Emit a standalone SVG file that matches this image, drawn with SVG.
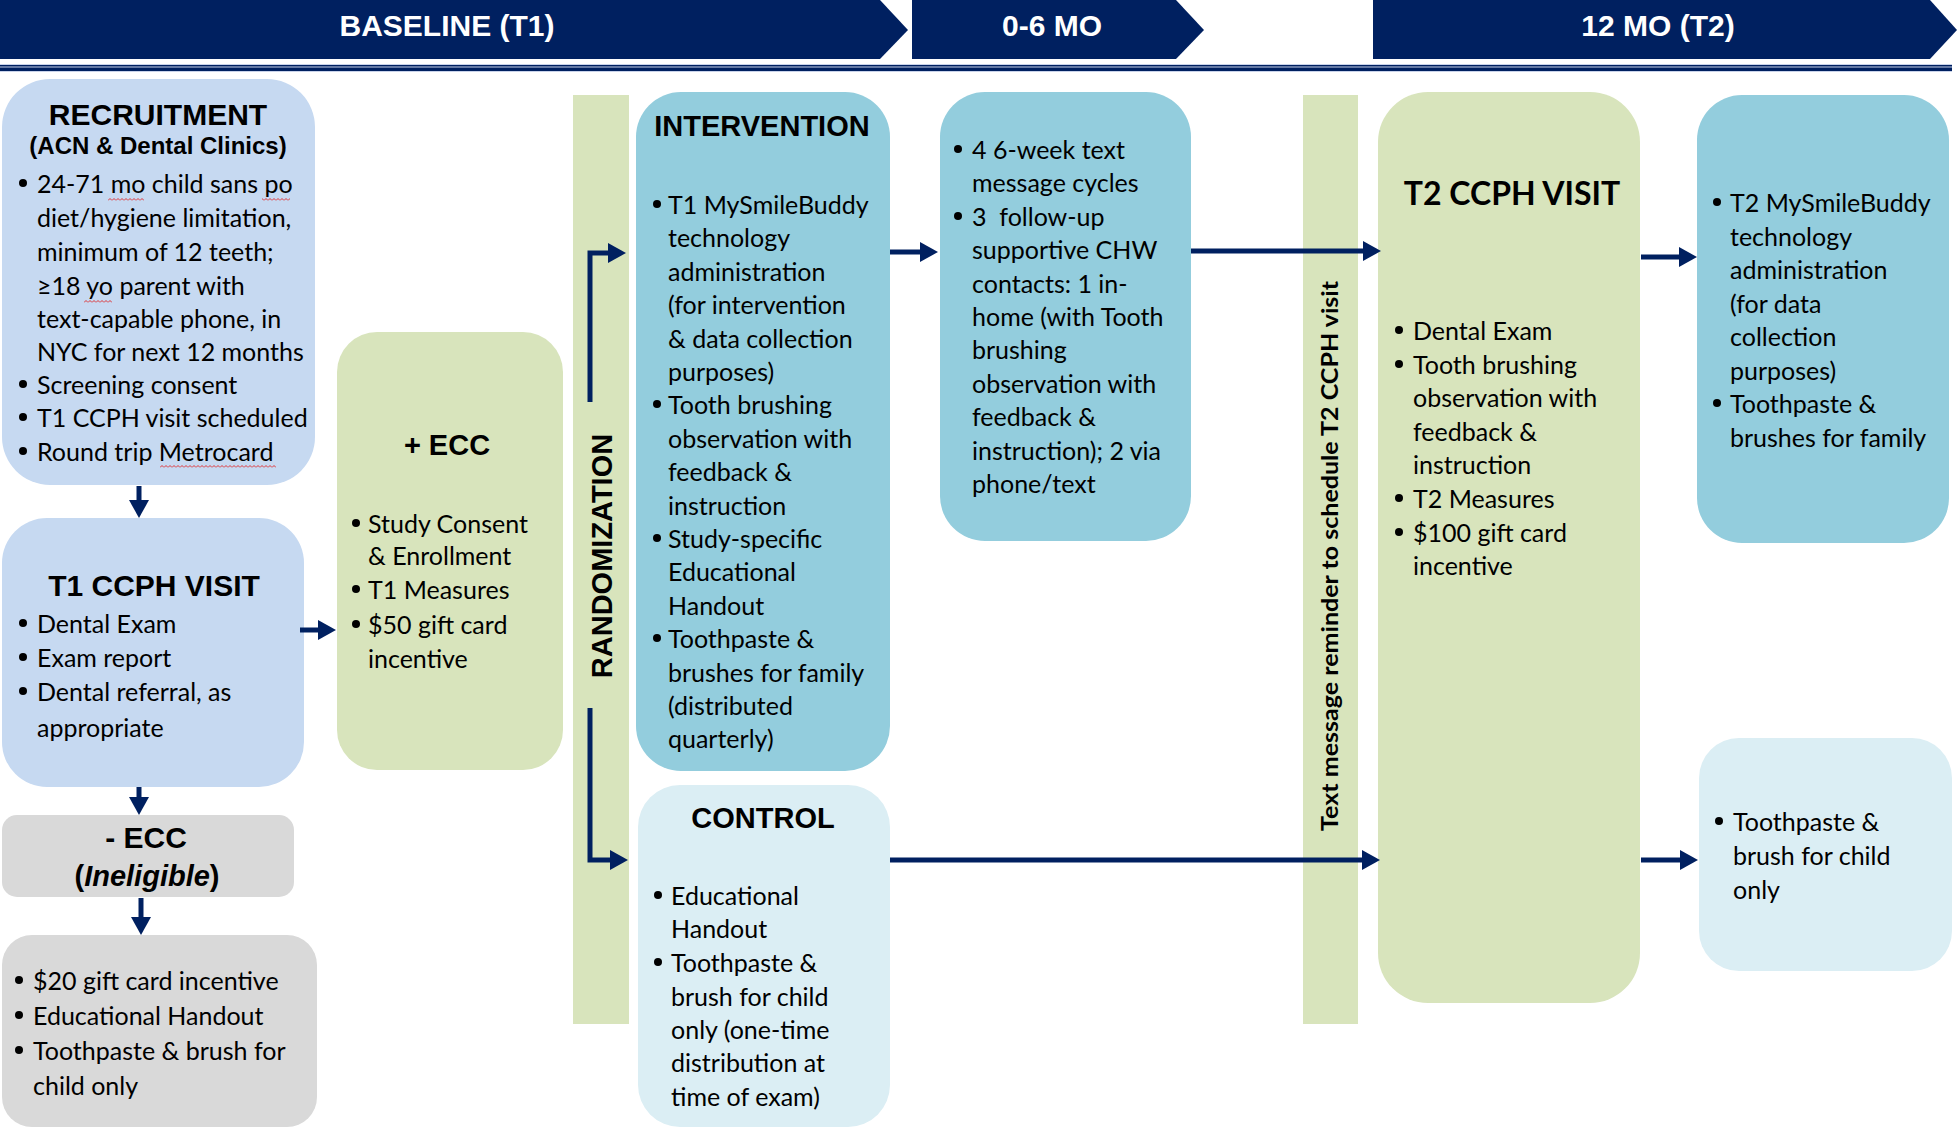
<svg xmlns="http://www.w3.org/2000/svg" width="1959" height="1130" viewBox="0 0 1959 1130">
<style>
.hdr{fill:#002060}
.hdrt{font-family:'Liberation Sans',Arial,sans-serif;font-weight:bold;font-size:30px;fill:#fff;text-anchor:middle}
.ttl{font-family:'Liberation Sans',Arial,sans-serif;font-weight:bold;font-size:29px;fill:#000;text-anchor:middle}
.ttl2{font-family:Lato,'Open Sans',sans-serif;font-weight:bold;font-size:32px;fill:#000;text-anchor:middle}
.b{font-family:Lato,'Open Sans',sans-serif;font-size:25px;fill:#000}
.rot{font-family:Lato,'Open Sans',sans-serif;font-weight:bold;font-size:23px;fill:#000;text-anchor:middle}
.dot{fill:#000}
.lb{fill:#c6d9f1}
.gr{fill:#d8e4bc}
.mb{fill:#93cddd}
.pb{fill:#dbeef4}
.gy{fill:#d9d9d9}
.conn path{stroke:#002060;stroke-width:5;fill:none;marker-end:url(#ah)}
.sq{fill:url(#squig)}
</style>
<defs>
<marker id="ah" markerUnits="userSpaceOnUse" markerWidth="18" markerHeight="20" viewBox="0 0 18 20" refX="4" refY="10" orient="auto">
<path d="M0,0 L18,10 L0,20 Z" fill="#002060"/>
</marker>
<pattern id="squig" patternUnits="userSpaceOnUse" width="4" height="3">
<path d="M0,2.5 L2,0.5 L4,2.5" stroke="#e02020" stroke-width="0.9" fill="none"/>
</pattern>
</defs>
<rect width="1959" height="1130" fill="#fff"/>

<g id="header">
<polygon class="hdr" points="0,0 880,0 908,30 880,59 0,59"/>
<polygon class="hdr" points="912,0 1176,0 1204,30 1176,59 912,59"/>
<polygon class="hdr" points="1373,0 1930,0 1957,30 1930,59 1373,59"/>
<text class="hdrt" x="447" y="36">BASELINE (T1)</text>
<text class="hdrt" x="1052" y="36">0-6 MO</text>
<text class="hdrt" x="1658" y="36">12 MO (T2)</text>
<rect x="0" y="64" width="1952" height="8" fill="#c9d3ea"/>
<rect x="0" y="65" width="1952" height="1.5" fill="#002060"/>
<rect x="0" y="67.5" width="1952" height="3.5" fill="#002060"/>
</g>

<g id="node-recruitment">
<rect class="lb" x="2" y="79" width="313" height="406" rx="48"/>
<text class="ttl" x="158" y="125" style="font-size:30px">RECRUITMENT</text>
<text class="ttl" x="158" y="154" style="font-size:24px">(ACN &amp; Dental Clinics)</text>
<circle class="dot" cx="23" cy="183" r="4"/>
<circle class="dot" cx="23" cy="384" r="4"/>
<circle class="dot" cx="23" cy="417" r="4"/>
<circle class="dot" cx="23" cy="451" r="4"/>
<text class="b" transform="translate(0,2.5)"><tspan x="37" y="190">24-71 mo child sans po</tspan><tspan x="37" y="224">diet/hygiene limitation,</tspan><tspan x="37" y="258">minimum of 12 teeth;</tspan><tspan x="37" y="292">≥18 yo parent with</tspan><tspan x="37" y="325">text-capable phone, in</tspan><tspan x="37" y="358">NYC for next 12 months</tspan><tspan x="37" y="391">Screening consent</tspan><tspan x="37" y="424">T1 CCPH visit scheduled</tspan><tspan x="37" y="458">Round trip Metrocard</tspan></text>
<rect class="sq" x="108" y="198" width="36" height="3"/>
<rect class="sq" x="262" y="198" width="28" height="3"/>
<rect class="sq" x="84" y="300" width="28" height="3"/>
<rect class="sq" x="160" y="465" width="116" height="3"/>
</g>

<g id="node-t1-visit">
<rect class="lb" x="2" y="518" width="302" height="269" rx="45"/>
<text class="ttl" x="154" y="596" style="font-size:30px">T1 CCPH VISIT</text>
<circle class="dot" cx="23" cy="623" r="4"/>
<circle class="dot" cx="23" cy="657" r="4"/>
<circle class="dot" cx="23" cy="691" r="4"/>
<text class="b" transform="translate(0,2.5)"><tspan x="37" y="630">Dental Exam</tspan><tspan x="37" y="664">Exam report</tspan><tspan x="37" y="698">Dental referral, as</tspan><tspan x="37" y="734">appropriate</tspan></text>
</g>

<g id="node-minus-ecc">
<rect class="gy" x="2" y="815" width="292" height="82" rx="15"/>
<text class="ttl" x="146" y="848" style="font-size:30px">- ECC</text>
<text class="ttl" x="147" y="886">(<tspan font-style="italic">Ineligible</tspan>)</text>
</g>

<g id="node-ineligible">
<rect class="gy" x="2" y="935" width="315" height="192" rx="30"/>
<circle class="dot" cx="19" cy="980" r="4"/>
<circle class="dot" cx="19" cy="1015" r="4"/>
<circle class="dot" cx="19" cy="1050" r="4"/>
<text class="b" transform="translate(0,2.5)"><tspan x="33" y="987">$20 gift card incentive</tspan><tspan x="33" y="1022">Educational Handout</tspan><tspan x="33" y="1057">Toothpaste &amp; brush for</tspan><tspan x="33" y="1092">child only</tspan></text>
</g>

<g id="node-plus-ecc">
<rect class="gr" x="337" y="332" width="226" height="438" rx="40"/>
<text class="ttl" x="447" y="455">+ ECC</text>
<circle class="dot" cx="356" cy="523" r="4"/>
<circle class="dot" cx="356" cy="589" r="4"/>
<circle class="dot" cx="356" cy="624" r="4"/>
<text class="b" transform="translate(0,2.5)"><tspan x="368" y="530">Study Consent</tspan><tspan x="368" y="562">&amp; Enrollment</tspan><tspan x="368" y="596">T1 Measures</tspan><tspan x="368" y="631">$50 gift card</tspan><tspan x="368" y="665">incentive</tspan></text>
</g>

<g id="node-randomization">
<rect class="gr" x="573" y="95" width="56" height="929"/>
<text class="ttl" transform="translate(601,556) rotate(-90)" x="0" y="11">RANDOMIZATION</text>
</g>

<g id="node-intervention">
<rect class="mb" x="636" y="92" width="254" height="679" rx="45"/>
<text class="ttl" x="762" y="136">INTERVENTION</text>
<circle class="dot" cx="657" cy="204" r="4"/>
<circle class="dot" cx="657" cy="404" r="4"/>
<circle class="dot" cx="657" cy="538" r="4"/>
<circle class="dot" cx="657" cy="638" r="4"/>
<text class="b" transform="translate(0,2.5)"><tspan x="668" y="211">T1 MySmileBuddy</tspan><tspan x="668" y="244">technology</tspan><tspan x="668" y="278">administration</tspan><tspan x="668" y="311">(for intervention</tspan><tspan x="668" y="345">&amp; data collection</tspan><tspan x="668" y="378">purposes)</tspan><tspan x="668" y="411">Tooth brushing</tspan><tspan x="668" y="445">observation with</tspan><tspan x="668" y="478">feedback &amp;</tspan><tspan x="668" y="512">instruction</tspan><tspan x="668" y="545">Study-specific</tspan><tspan x="668" y="578">Educational</tspan><tspan x="668" y="612">Handout</tspan><tspan x="668" y="645">Toothpaste &amp;</tspan><tspan x="668" y="679">brushes for family</tspan><tspan x="668" y="712">(distributed</tspan><tspan x="668" y="745">quarterly)</tspan></text>
</g>

<g id="node-control">
<rect class="pb" x="638" y="785" width="252" height="342" rx="42"/>
<text class="ttl" x="763" y="828">CONTROL</text>
<circle class="dot" cx="658" cy="895" r="4"/>
<circle class="dot" cx="658" cy="962" r="4"/>
<text class="b" transform="translate(0,2.5)"><tspan x="671" y="902">Educational</tspan><tspan x="671" y="935">Handout</tspan><tspan x="671" y="969">Toothpaste &amp;</tspan><tspan x="671" y="1003">brush for child</tspan><tspan x="671" y="1036">only (one-time</tspan><tspan x="671" y="1069">distribution at</tspan><tspan x="671" y="1103">time of exam)</tspan></text>
</g>

<g id="node-0-6mo">
<rect class="mb" x="940" y="92" width="251" height="449" rx="45"/>
<circle class="dot" cx="958" cy="149" r="4"/>
<circle class="dot" cx="958" cy="216" r="4"/>
<text class="b" transform="translate(0,2.5)" xml:space="preserve"><tspan x="972" y="156">4 6-week text</tspan><tspan x="972" y="189">message cycles</tspan><tspan x="972" y="223">3  follow-up</tspan><tspan x="972" y="256">supportive CHW</tspan><tspan x="972" y="290">contacts: 1 in-</tspan><tspan x="972" y="323">home (with Tooth</tspan><tspan x="972" y="356">brushing</tspan><tspan x="972" y="390">observation with</tspan><tspan x="972" y="423">feedback &amp;</tspan><tspan x="972" y="457">instruction); 2 via</tspan><tspan x="972" y="490">phone/text</tspan></text>
</g>

<g id="node-text-reminder">
<rect class="gr" x="1303" y="95" width="55" height="929"/>
<text class="rot" transform="translate(1330,556) rotate(-90)" x="0" y="8" textLength="550" lengthAdjust="spacingAndGlyphs">Text message reminder to schedule T2 CCPH visit</text>
</g>

<g id="node-t2-visit">
<rect class="gr" x="1378" y="92" width="262" height="911" rx="50"/>
<text class="ttl2" x="1512" y="205">T2 CCPH VISIT</text>
<circle class="dot" cx="1399" cy="330" r="4"/>
<circle class="dot" cx="1399" cy="364" r="4"/>
<circle class="dot" cx="1399" cy="498" r="4"/>
<circle class="dot" cx="1399" cy="532" r="4"/>
<text class="b" transform="translate(0,2.5)"><tspan x="1413" y="337">Dental Exam</tspan><tspan x="1413" y="371">Tooth brushing</tspan><tspan x="1413" y="404">observation with</tspan><tspan x="1413" y="438">feedback &amp;</tspan><tspan x="1413" y="471">instruction</tspan><tspan x="1413" y="505">T2 Measures</tspan><tspan x="1413" y="539">$100 gift card</tspan><tspan x="1413" y="572">incentive</tspan></text>
</g>

<g id="node-t2-intervention">
<rect class="mb" x="1697" y="95" width="252" height="448" rx="45"/>
<circle class="dot" cx="1717" cy="202" r="4"/>
<circle class="dot" cx="1717" cy="403" r="4"/>
<text class="b" transform="translate(0,2.5)"><tspan x="1730" y="209">T2 MySmileBuddy</tspan><tspan x="1730" y="243">technology</tspan><tspan x="1730" y="276">administration</tspan><tspan x="1730" y="310">(for data</tspan><tspan x="1730" y="343">collection</tspan><tspan x="1730" y="377">purposes)</tspan><tspan x="1730" y="410">Toothpaste &amp;</tspan><tspan x="1730" y="444">brushes for family</tspan></text>
</g>

<g id="node-t2-control">
<rect class="pb" x="1699" y="738" width="253" height="233" rx="40"/>
<circle class="dot" cx="1719" cy="821" r="4"/>
<text class="b" transform="translate(0,2.5)"><tspan x="1733" y="828">Toothpaste &amp;</tspan><tspan x="1733" y="862">brush for child</tspan><tspan x="1733" y="896">only</tspan></text>
</g>

<g id="connectors" class="conn">
<path d="M139,486 V504"/>
<path d="M139,787 V801"/>
<path d="M141,898 V921"/>
<path d="M300,630 H322"/>
<path d="M590,402 V253 H612"/>
<path d="M590,708 V860 H614"/>
<path d="M890,252 H924"/>
<path d="M1191,251 H1367"/>
<path d="M890,860 H1366"/>
<path d="M1641,257 H1683"/>
<path d="M1641,860 H1684"/>
</g>
</svg>
